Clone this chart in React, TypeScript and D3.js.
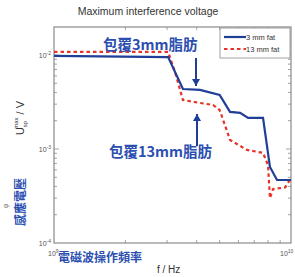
import React, { useEffect, useRef } from "react";
import * as d3 from "d3";

// frequency in Hz, induced voltage in V
const freq3 = [1e9, 3.03e9, 3.5e9, 4.13e9, 5.0e9, 5.53e9, 6.1e9, 6.59e9, 7.62e9, 8.15e9, 8.73e9, 1e10];
const volt3 = [9.8e-3, 9.5e-3, 4.35e-3, 4.25e-3, 3.75e-3, 2.48e-3, 2.42e-3, 2.14e-3, 2.14e-3, 6.44e-4, 4.68e-4, 4.68e-4];

const freq13 = [1e9, 3.03e9, 3.24e9, 3.5e9, 4.13e9, 4.69e9, 5.0e9, 5.53e9, 6.52e9, 7.62e9, 8.0e9, 8.15e9, 8.4e9, 9.45e9, 1e10];
const volt13 = [1.08e-2, 1.08e-2, 6.6e-3, 3.32e-3, 3.09e-3, 2.94e-3, 2.6e-3, 1.25e-3, 9.77e-4, 9.1e-4, 6.7e-4, 3.0e-4, 3.75e-4, 3.9e-4, 4.9e-4];

const seriesNames = ["3 mm fat", "13 mm fat"];
const yTickExp = [-2, -3, -4];

const App = () => {
  const ref = useRef<SVGSVGElement>(null);

  useEffect(() => {
    const svg = d3.select(ref.current);
    svg.selectAll("*").remove();

    const width = 295;
    const height = 277;
    const margin = { top: 27, right: 4, bottom: 34, left: 54 };

    svg.attr("width", width).attr("height", height);

    const x = d3
      .scaleLog()
      .domain([1e9, 1e10])
      .range([margin.left, width - margin.right]);

    const y = d3
      .scaleLog()
      .domain([1e-4, Math.pow(10, -1.702)])
      .range([height - margin.bottom, margin.top]);

    const axisCol = "#8a8a8a";
    const blue = "#1f3e98";
    const red = "#e8332a";
    const textBlue = "#2b4fb0";

    // title
    svg
      .append("text")
      .attr("x", 148)
      .attr("y", 15)
      .attr("text-anchor", "middle")
      .attr("font-family", "Liberation Sans, Arial, sans-serif")
      .attr("font-size", 10.5)
      .attr("fill", "#333")
      .text("Maximum interference voltage");

    // frame
    svg
      .append("rect")
      .attr("x", margin.left)
      .attr("y", margin.top)
      .attr("width", width - margin.right - margin.left)
      .attr("height", height - margin.bottom - margin.top)
      .attr("fill", "none")
      .attr("stroke", axisCol)
      .attr("stroke-width", 1.2);

    // minor ticks
    const xTicks = x.ticks().filter((d) => d > 1e9 && d < 1e10);
    const yTicks = y.ticks().filter((d) => d > 1e-4 && d < 0.02);
    const tk = svg.append("g").attr("stroke", axisCol).attr("stroke-width", 0.8);
    xTicks.forEach((d) => {
      tk.append("line").attr("x1", x(d)).attr("x2", x(d)).attr("y1", height - margin.bottom).attr("y2", height - margin.bottom - 3);
      tk.append("line").attr("x1", x(d)).attr("x2", x(d)).attr("y1", margin.top).attr("y2", margin.top + 3);
    });
    yTicks.forEach((d) => {
      const big = yTickExp.some((e) => Math.abs(Math.log10(d) - e) < 1e-6);
      const len = big ? 5 : 3;
      tk.append("line").attr("x1", margin.left).attr("x2", margin.left + len).attr("y1", y(d)).attr("y2", y(d));
      tk.append("line").attr("x1", width - margin.right).attr("x2", width - margin.right - len).attr("y1", y(d)).attr("y2", y(d));
    });

    // y tick labels
    yTickExp.forEach((e) => {
      const t = svg
        .append("text")
        .attr("x", margin.left - 3)
        .attr("y", y(Math.pow(10, e)) + 3)
        .attr("text-anchor", "end")
        .attr("font-family", "Liberation Sans, Arial, sans-serif")
        .attr("font-size", 7)
        .attr("fill", "#555");
      t.append("tspan").text("10");
      t.append("tspan").attr("dy", -3).attr("font-size", 5).text(String(e));
    });

    // x tick labels
    const xl = (val: number, ex: string, dx: number) => {
      const t = svg
        .append("text")
        .attr("x", x(val) + dx)
        .attr("y", height - margin.bottom + 13)
        .attr("font-family", "Liberation Sans, Arial, sans-serif")
        .attr("font-size", 7)
        .attr("fill", "#555");
      t.append("tspan").text("10");
      t.append("tspan").attr("dy", -3).attr("font-size", 5).text(ex);
    };
    xl(1e9, "9", -6);
    xl(1e10, "10", -11);

    // axis labels
    svg
      .append("text")
      .attr("x", 157)
      .attr("y", 273)
      .attr("font-family", "Liberation Sans, Arial, sans-serif")
      .attr("font-size", 10)
      .attr("fill", "#333")
      .text("f / Hz");

    svg
      .append("text")
      .attr("x", 58)
      .attr("y", 262)
      .attr("font-family", "Noto Sans CJK TC, sans-serif")
      .attr("font-weight", "bold")
      .attr("font-size", 12)
      .attr("fill", textBlue)
      .text("電磁波操作頻率");

    const yl = svg
      .append("text")
      .attr("transform", "translate(24,118) rotate(-90)")
      .attr("text-anchor", "middle")
      .attr("font-family", "Liberation Sans, Arial, sans-serif")
      .attr("font-size", 11)
      .attr("fill", "#333");
    yl.append("tspan").text("U");
    yl.append("tspan").attr("dy", 3).attr("font-size", 6).text("sp");
    yl.append("tspan").attr("dx", -8).attr("dy", -9).attr("font-size", 6).text("max");
    yl.append("tspan").attr("dy", 6).text(" / V");

    svg
      .append("text")
      .attr("transform", "translate(25,202) rotate(-90)")
      .attr("text-anchor", "middle")
      .attr("font-family", "Noto Sans CJK TC, sans-serif")
      .attr("font-weight", "bold")
      .attr("font-size", 12)
      .attr("fill", textBlue)
      .text("感應電壓");

    svg
      .append("text")
      .attr("transform", "translate(8,206) rotate(-90)")
      .attr("text-anchor", "middle")
      .attr("font-family", "Liberation Sans, Arial, sans-serif")
      .attr("font-size", 7)
      .attr("fill", "#777")
      .text("φ");

    // lines
    const line = d3
      .line<[number, number]>()
      .x((d) => x(d[0]))
      .y((d) => y(d[1]));

    const d3mm = freq3.map((f, i) => [f, volt3[i]] as [number, number]);
    const d13mm = freq13.map((f, i) => [f, volt13[i]] as [number, number]);

    svg
      .append("path")
      .datum(d13mm)
      .attr("d", line)
      .attr("fill", "none")
      .attr("stroke", red)
      .attr("stroke-width", 2.2)
      .attr("stroke-dasharray", "3.5,3");

    svg
      .append("path")
      .datum(d3mm)
      .attr("d", line)
      .attr("fill", "none")
      .attr("stroke", blue)
      .attr("stroke-width", 2.2);

    // legend
    const lg = svg.append("g");
    lg.append("rect")
      .attr("x", 220)
      .attr("y", margin.top + 1)
      .attr("width", 70)
      .attr("height", 30)
      .attr("fill", "#fff")
      .attr("stroke", axisCol)
      .attr("stroke-width", 0.8);
    seriesNames.forEach((name, i) => {
      const ly = 37 + i * 12;
      lg.append("line")
        .attr("x1", 224)
        .attr("x2", 246)
        .attr("y1", ly)
        .attr("y2", ly)
        .attr("stroke", i === 0 ? blue : red)
        .attr("stroke-width", 2.2)
        .attr("stroke-dasharray", i === 0 ? null : "3.5,3");
      lg.append("text")
        .attr("x", 246)
        .attr("y", ly + 3)
        .attr("font-family", "Liberation Sans, Arial, sans-serif")
        .attr("font-size", 7.5)
        .attr("fill", "#333")
        .text(name);
    });

    // annotations
    const ann = (tx: number, ty: number, label: string) =>
      svg
        .append("text")
        .attr("x", tx)
        .attr("y", ty)
        .attr("font-family", "Noto Sans CJK TC, sans-serif")
        .attr("font-weight", "bold")
        .attr("font-size", 14.5)
        .attr("fill", textBlue)
        .text(label);
    ann(103, 50, "包覆3mm脂肪");
    ann(109, 157, "包覆13mm脂肪");

    const arrow = (ax: number, y1: number, y2: number) => {
      svg
        .append("line")
        .attr("x1", ax)
        .attr("x2", ax)
        .attr("y1", y1)
        .attr("y2", y2)
        .attr("stroke", blue)
        .attr("stroke-width", 2);
      const dir = y2 > y1 ? 1 : -1;
      svg
        .append("path")
        .attr("d", `M${ax - 4},${y2 - dir * 7}L${ax + 4},${y2 - dir * 7}L${ax},${y2}Z`)
        .attr("fill", blue);
    };
    arrow(196, 58, 86);
    arrow(197, 146, 114);
  }, []);

  return (
    <svg ref={ref} style={{ position: "absolute", left: 0, top: 0 }}>
      {/* chart */}
    </svg>
  );
};

export default App;
